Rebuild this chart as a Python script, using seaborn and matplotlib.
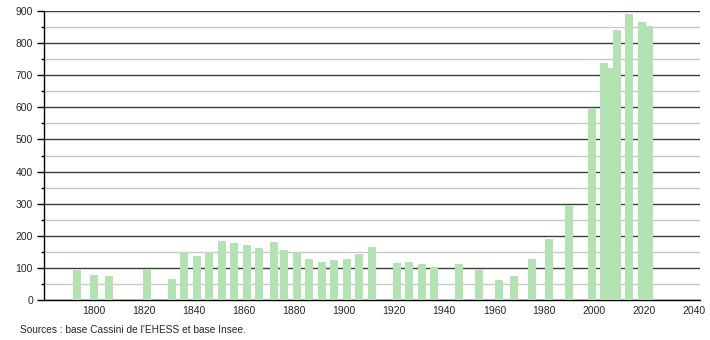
import matplotlib
matplotlib.use("Agg")
import matplotlib.pyplot as plt
from matplotlib.ticker import MultipleLocator
import seaborn as sns
import pandas as pd

years = [1793, 1800, 1806, 1821, 1831, 1836, 1841, 1846, 1851, 1856, 1861, 1866,
         1872, 1876, 1881, 1886, 1891, 1896, 1901, 1906, 1911, 1921, 1926, 1931,
         1936, 1946, 1954, 1962, 1968, 1975, 1982, 1990, 1999, 2004, 2006, 2009,
         2014, 2019, 2022]
population = [93, 78, 75, 97, 65, 149, 137, 149, 183, 177, 171, 162,
              180, 155, 146, 127, 118, 124, 127, 143, 165, 115, 118, 112,
              102, 112, 97, 62, 74, 128, 190, 297, 599, 737, 721, 842,
              892, 867, 854]
x_ticks = [1800, 1820, 1840, 1860, 1880, 1900, 1920, 1940, 1960, 1980, 2000, 2020, 2040]
source_text = "Sources : base Cassini de l'EHESS et base Insee."

df = pd.DataFrame({"year": years, "population": population})

sns.set_style("white")
plt.rcParams["font.family"] = ["Liberation Sans", "DejaVu Sans"]

fig = plt.figure(figsize=(7.1, 3.4), dpi=100)
ax = fig.add_axes([44 / 710, 40 / 340, 656 / 710, 289 / 340])

sns.barplot(data=df, x="year", y="population", native_scale=True, width=1.6,
            color="#b3e2b3", saturation=1, linewidth=0, ax=ax, zorder=3)

ax.set_xlim(1780, 2042.2)
ax.set_ylim(0, 900)
ax.set_xticks(x_ticks)
ax.set_xticklabels([str(t) for t in x_ticks])
ax.yaxis.set_major_locator(MultipleLocator(100))
ax.yaxis.set_minor_locator(MultipleLocator(50))
ax.grid(axis="y", which="major", color="#3c3c3c", linewidth=1.0, zorder=1)
ax.grid(axis="y", which="minor", color="#c8c8c8", linewidth=1.0, zorder=1)
ax.set_axisbelow(True)
ax.set_xlabel("")
ax.set_ylabel("")

for s in ["top", "right"]:
    ax.spines[s].set_visible(False)
for s in ["left", "bottom"]:
    ax.spines[s].set_color("black")
    ax.spines[s].set_linewidth(1.0)

ax.tick_params(axis="y", which="major", length=5, width=1, color="black",
               labelsize=7.5, pad=3, left=True)
ax.tick_params(axis="y", which="minor", length=2, width=1, color="black", left=True)
ax.tick_params(axis="x", which="both", length=0, labelsize=7.5, pad=4, bottom=True)

fig.text(20 / 710, 1 - 330 / 340, source_text, fontsize=7.3, ha="left", va="center")

fig.savefig("out.png", dpi=100)
